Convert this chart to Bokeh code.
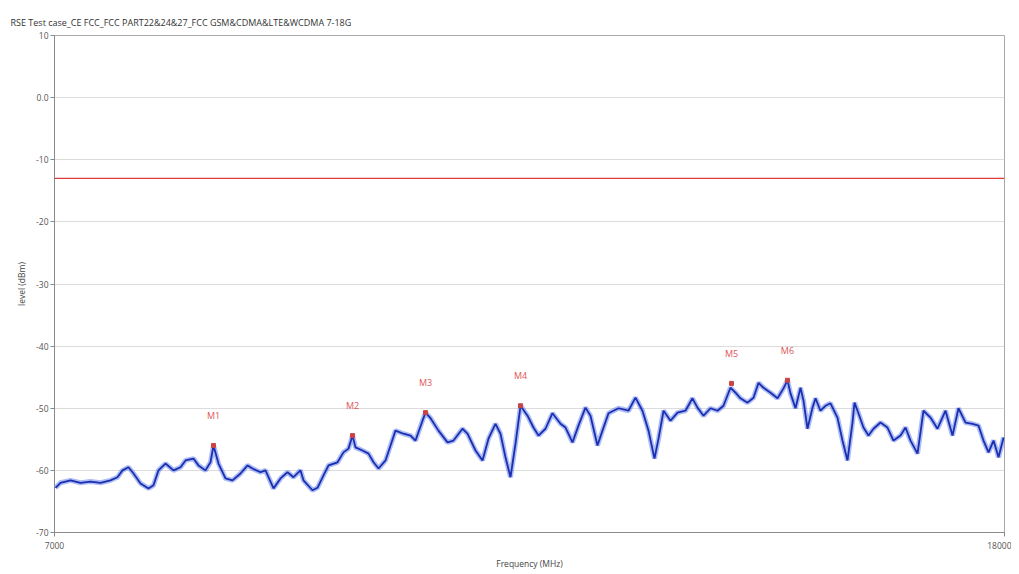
from bokeh.plotting import figure
from bokeh.models import Range1d, FixedTicker, ColumnDataSource, Span
from bokeh.core.properties import value
from bokeh.embed import file_html
from bokeh.resources import INLINE

title_text = "RSE Test case_CE FCC_FCC PART22&24&27_FCC GSM&CDMA&LTE&WCDMA 7-18G"
x_label = "Frequency (MHz)"
y_label = "level (dBm)"

y_ticks = [10, 0, -10, -20, -30, -40, -50, -60, -70]
y_tick_labels = ["10", "0.0", "-10", "-20", "-30", "-40", "-50", "-60", "-70"]
x_ticks = [7000, 18000]

limit_level = -13.0

freq = [7012, 7069, 7185, 7301, 7417, 7533, 7648, 7729, 7787, 7857, 7915, 7996,
        8088, 8146, 8204, 8285, 8378, 8459, 8517, 8609, 8667, 8748, 8806, 8841,
        8899, 8980, 9061, 9154, 9235, 9293, 9385, 9443, 9536, 9617, 9698, 9767,
        9848, 9883, 9987, 10045, 10115, 10173, 10277, 10346, 10404, 10451, 10485,
        10566, 10636, 10694, 10752, 10833, 10891, 10948, 11041, 11122, 11180,
        11261, 11296, 11354, 11446, 11551, 11620, 11724, 11782, 11875, 11956,
        12025, 12106, 12164, 12222, 12280, 12338, 12396, 12477, 12546, 12604,
        12685, 12766, 12859, 12917, 12998, 13067, 13148, 13206, 13287, 13345,
        13415, 13531, 13646, 13727, 13808, 13878, 13947, 13994, 14052, 14133,
        14214, 14306, 14387, 14445, 14515, 14596, 14677, 14746, 14827, 14885,
        14943, 15024, 15094, 15152, 15210, 15291, 15372, 15441, 15487, 15522,
        15580, 15638, 15673, 15719, 15777, 15812, 15869, 15927, 15985, 16066,
        16124, 16182, 16240, 16263, 16309, 16367, 16425, 16483, 16564, 16645,
        16715, 16796, 16854, 16912, 16993, 17062, 17143, 17224, 17317, 17398,
        17467, 17549, 17630, 17699, 17757, 17815, 17873, 17931, 17989]
level = [-62.8, -62.0, -61.6, -62.0, -61.8, -62.0, -61.6, -61.1, -60.0, -59.5,
         -60.5, -62.1, -62.9, -62.4, -60.0, -58.9, -60.0, -59.5, -58.4, -58.1,
         -59.2, -60.0, -58.7, -56.0, -58.9, -61.3, -61.6, -60.5, -59.2, -59.7,
         -60.3, -60.0, -62.9, -61.3, -60.3, -61.1, -60.0, -61.6, -63.2, -62.8,
         -60.8, -59.2, -58.7, -57.1, -56.5, -54.4, -56.3, -56.8, -57.3, -58.7,
         -59.7, -58.4, -56.0, -53.6, -54.1, -54.4, -55.2, -52.0, -50.7, -51.6,
         -53.6, -55.5, -55.2, -53.3, -54.1, -56.8, -58.4, -54.9, -52.5, -54.1,
         -57.9, -61.1, -55.7, -49.6, -51.2, -53.1, -54.4, -53.3, -50.8, -52.5,
         -53.1, -55.5, -52.8, -49.9, -51.2, -56.0, -53.6, -50.8, -50.0, -50.4,
         -48.3, -50.4, -53.6, -58.1, -54.9, -50.4, -52.0, -50.7, -50.4, -48.4,
         -49.9, -51.2, -50.0, -50.4, -49.6, -46.7, -47.5, -48.4, -49.1, -48.3,
         -45.9, -46.7, -47.5, -48.4, -46.8, -45.5, -47.6, -50.0, -46.7, -48.8,
         -53.3, -49.9, -48.4, -50.4, -49.6, -49.2, -51.5, -55.2, -58.4, -52.3,
         -49.1, -50.8, -53.1, -54.4, -53.3, -52.3, -53.1, -55.2, -54.4, -53.1,
         -55.2, -57.3, -50.4, -51.5, -53.3, -50.4, -54.4, -50.0, -52.3, -52.5,
         -52.8, -55.2, -57.1, -55.2, -57.9, -54.7]

marker_names = ["M1", "M2", "M3", "M4", "M5", "M6"]
marker_freq = [8841, 10451, 11296, 12396, 14839, 15487]
marker_level = [-56.0, -54.4, -50.7, -49.6, -46.0, -45.5]

FONT = "Open Sans"

p = figure(width=1011, height=574, output_backend="svg", toolbar_location=None,
           x_range=Range1d(7000, 18000), y_range=Range1d(-70, 10),
           min_border_left=54, min_border_right=7, min_border_bottom=42,
           min_border_top=35, title=title_text)

p.title.text_font = FONT
p.title.text_font_size = "9px"
p.title.text_font_style = "normal"
p.title.text_color = "#333333"
p.title.align = "left"
p.title.offset = -44
p.title.standoff = 14

p.background_fill_color = "white"
p.border_fill_color = "white"
p.outline_line_color = "#a8a8a8"
p.outline_line_width = 1

p.xgrid.grid_line_color = None
p.ygrid.grid_line_color = "#dcdcdc"
p.ygrid.ticker = FixedTicker(ticks=y_ticks)

p.yaxis.ticker = FixedTicker(ticks=y_ticks)
p.yaxis.major_label_overrides = {t: l for t, l in zip(y_ticks, y_tick_labels)}
p.xaxis.ticker = FixedTicker(ticks=x_ticks)

for ax in (p.xaxis[0], p.yaxis[0]):
    ax.axis_line_color = "#8a8a8a"
    ax.major_tick_line_color = "#8a8a8a"
    ax.minor_tick_line_color = None
    ax.major_tick_in = 0
    ax.major_tick_out = 4
    ax.major_label_text_font = FONT
    ax.major_label_text_font_size = "8.5px"
    ax.major_label_text_color = "#555555"
    ax.axis_label_text_font = FONT
    ax.axis_label_text_font_size = "8.5px"
    ax.axis_label_text_font_style = "normal"
    ax.axis_label_text_color = "#444444"

p.xaxis.axis_label = x_label
p.yaxis.axis_label = y_label
p.xaxis.major_label_standoff = 5
p.xaxis.axis_label_standoff = 6
p.yaxis.major_label_standoff = 2
p.yaxis.axis_label_standoff = 6

limit = Span(location=limit_level, dimension="width", line_color="#e03c3c",
             line_width=1.2)
p.add_layout(limit)

trace = ColumnDataSource(dict(x=freq, y=level))
p.line("x", "y", source=trace, line_color="#4a6be6", line_width=5,
       line_alpha=0.45)
p.line("x", "y", source=trace, line_color="#1a2fb0", line_width=1.8)

mk = ColumnDataSource(dict(x=marker_freq, y=marker_level, t=marker_names))
p.scatter("x", "y", source=mk, size=4, color="#c84545", marker="square")
p.text("x", "y", text="t", source=mk, text_font=value(FONT),
       text_font_size="9px", text_color="#e05555", text_align="center",
       text_baseline="middle", y_offset=-30)

open("out.html", "w").write(file_html(p, INLINE))
